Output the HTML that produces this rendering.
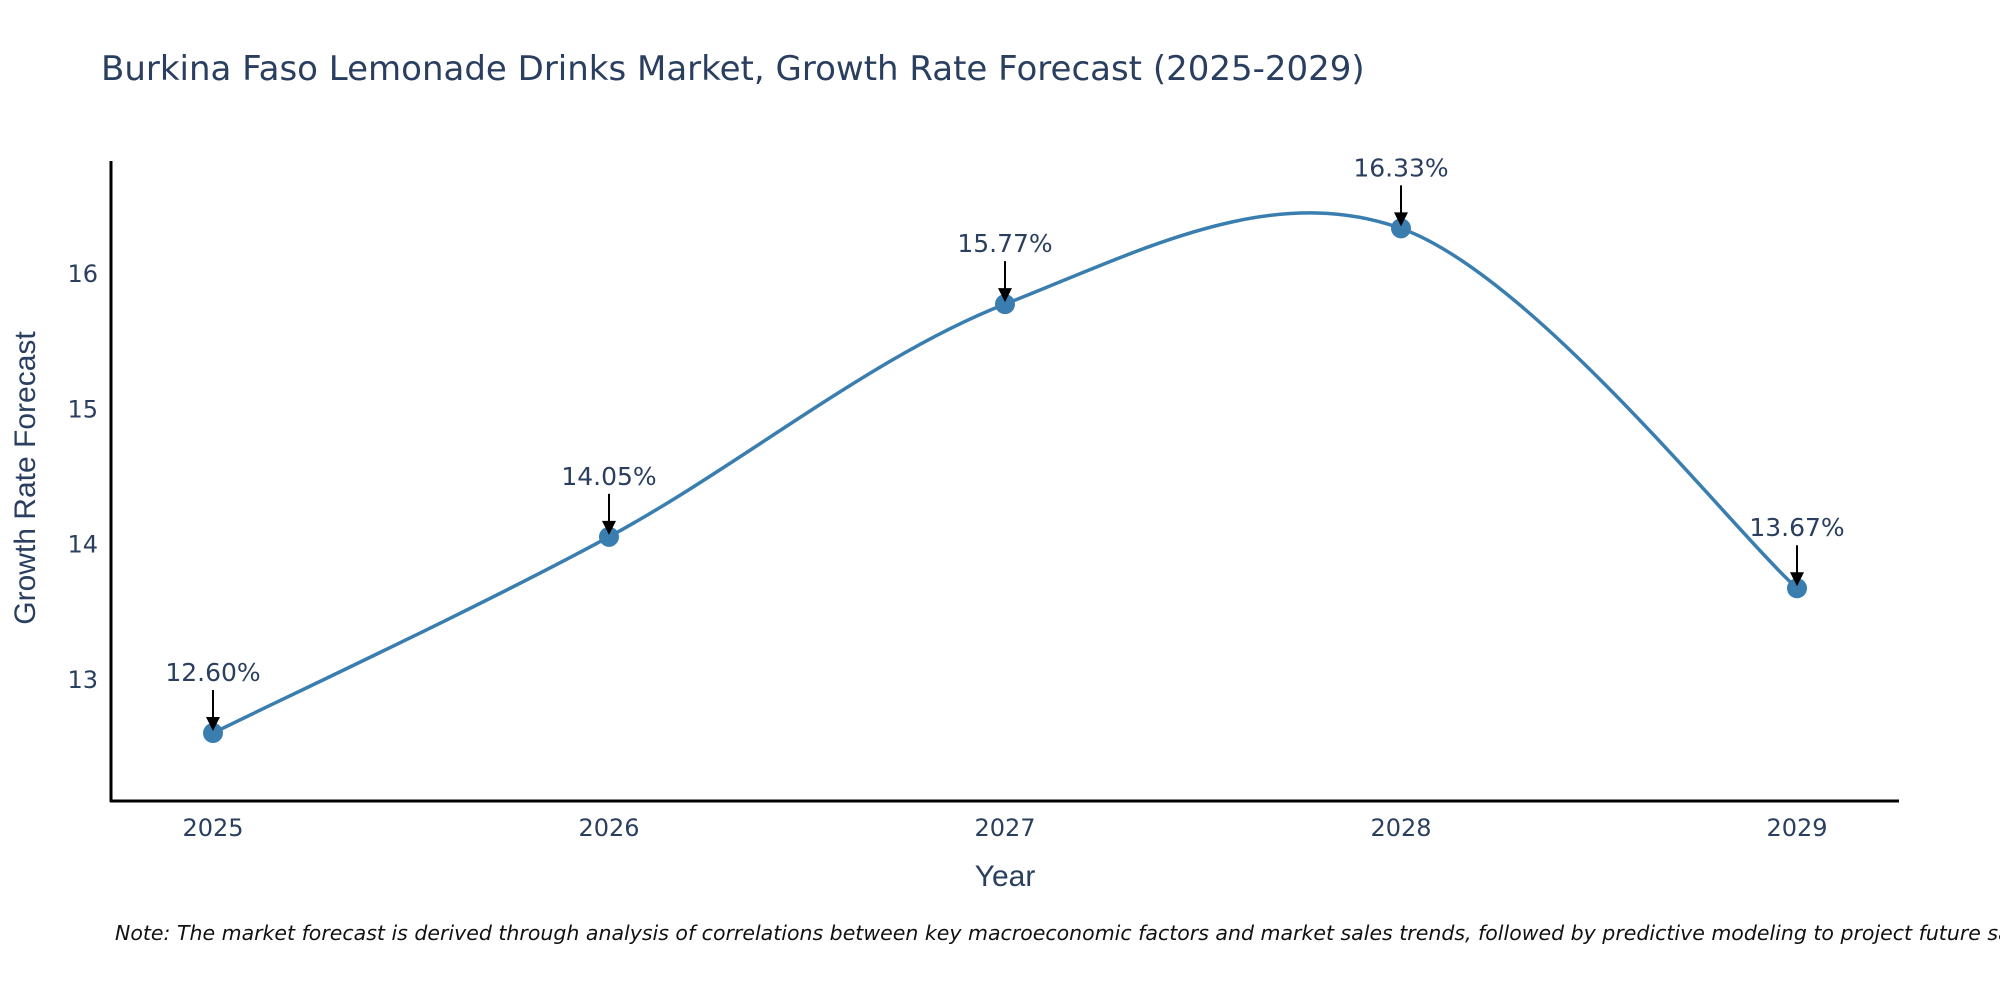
<!DOCTYPE html>
<html><head><meta charset="utf-8"><style>
body{margin:0;background:#fff}
svg{display:block;font-family:"DejaVu Sans","Liberation Sans",sans-serif}
</style></head><body>
<svg id="chart" width="2000" height="1000" viewBox="0 0 2000 1000">
<text x="101" y="80" font-size="34" fill="#2a3f5f">Burkina Faso Lemonade Drinks Market, Growth Rate Forecast (2025-2029)</text>
<g id="yticks"></g>
<g id="xticks"></g>
<line x1="111" y1="161" x2="111" y2="802" stroke="#000" stroke-width="3"/>
<line x1="110" y1="801" x2="1899" y2="801" stroke="#000" stroke-width="3"/>
<text transform="translate(35,478) rotate(-90)" text-anchor="middle" font-size="30" fill="#2a3f5f" font-family="Liberation Sans, sans-serif">Growth Rate Forecast</text>
<text x="1005" y="886" text-anchor="middle" font-size="30" fill="#2a3f5f" font-family="Liberation Sans, sans-serif">Year</text>
<path id="line" fill="none" stroke="#3a7eb0" stroke-width="3.5"/>
<g id="marks"></g>
<text x="115" y="940" font-size="20.5" font-style="italic" fill="#111">Note: The market forecast is derived through analysis of correlations between key macroeconomic factors and market sales trends, followed by predictive modeling to project future sales.</text>
</svg>
<script>
const years = [2025, 2026, 2027, 2028, 2029];
const values = [12.60, 14.05, 15.77, 16.33, 13.67];
const labels = ["12.60%", "14.05%", "15.77%", "16.33%", "13.67%"];
const yTicks = [13, 14, 15, 16];

const NS = "http://www.w3.org/2000/svg";
const xs = y => 213 + (y - 2025) * 396;
const ys = v => 273 - (v - 16) * 135.3;
function mk(tag, attrs, parent, txt) {
  const e = document.createElementNS(NS, tag);
  for (const k in attrs) e.setAttribute(k, attrs[k]);
  if (txt !== undefined) e.textContent = txt;
  parent.appendChild(e);
  return e;
}
const yt = document.getElementById('yticks');
yTicks.forEach(t => {
  const e = mk('text', {x: 98, y: ys(t) + 9, 'text-anchor': 'end', 'font-size': 24, fill: '#2a3f5f'}, yt, String(t));
  
  
});
const xt = document.getElementById('xticks');
years.forEach(y => {
  const e = mk('text', {x: xs(y), y: 836, 'text-anchor': 'middle', 'font-size': 24, fill: '#2a3f5f'}, xt, String(y));
  
  
});
const P = years.map((y, i) => [xs(y), ys(values[i])]);
let d = `M${P[0][0]},${P[0][1]}`;
const t = 0.5;
for (let i = 0; i < P.length - 1; i++) {
  const p0 = P[Math.max(0, i - 1)], p1 = P[i], p2 = P[i + 1], p3 = P[Math.min(P.length - 1, i + 2)];
  const c1 = [p1[0] + (p2[0] - p0[0]) * t / 3, p1[1] + (p2[1] - p0[1]) * t / 3];
  const c2 = [p2[0] - (p3[0] - p1[0]) * t / 3, p2[1] - (p3[1] - p1[1]) * t / 3];
  d += ` C${c1[0]},${c1[1]} ${c2[0]},${c2[1]} ${p2[0]},${p2[1]}`;
}
document.getElementById('line').setAttribute('d', d);
const g = document.getElementById('marks');
P.forEach((p, i) => {
  const c = mk('circle', {cx: p[0], cy: p[1], r: 10, fill: '#3a7eb0'}, g);
  
  
  const l = mk('line', {x1: p[0], y1: p[1] - 43, x2: p[0], y2: p[1] - 14, stroke: '#000', 'stroke-width': 2}, g);
  
  
  const h = mk('polygon', {points: `${p[0]-7},${p[1]-16} ${p[0]+7},${p[1]-16} ${p[0]},${p[1]-2}`, fill: '#000'}, g);
  
  
  const tx = mk('text', {x: p[0], y: p[1] - 52, 'text-anchor': 'middle', 'font-size': 25, fill: '#2a3f5f'}, g, labels[i]);
  
  
});
</script>
</body></html>
